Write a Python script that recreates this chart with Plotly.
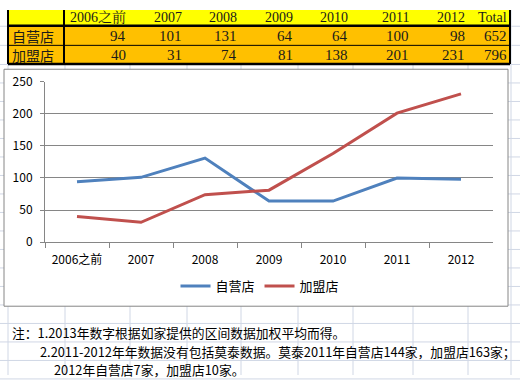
import plotly.graph_objects as go

W, H = 520, 382

categories = ["2006之前", "2007", "2008", "2009", "2010", "2011", "2012"]
series_names = ["自营店", "加盟店"]
own_stores = [94, 101, 131, 64, 64, 100, 98]
franchise_stores = [40, 31, 74, 81, 138, 201, 231]
total_label = "Total"
y_ticks = [0, 50, 100, 150, 200, 250]
notes = [
    "注：1.2013年数字根据如家提供的区间数据加权平均而得。",
    "2.2011-2012年年数据没有包括莫泰数据。莫泰2011年自营店144家，加盟店163家；",
    "2012年自营店7家，加盟店10家。",
]

colors = ["#4F81BD", "#C0504D"]


def px(x):
    return x / W


def py(y):
    return 1 - y / H


shapes = []
annotations = []

# spreadsheet grid
grid_color = "#D0D7E5"
col_edges = [8, 65, 130, 187, 241, 298, 353, 413, 468, 511]
row_edges = [17, 37, 57] + [57 + 19.36 * i for i in range(1, 18)]
for x in col_edges:
    shapes.append(dict(type="line", xref="paper", yref="paper", x0=px(x), x1=px(x), y0=0, y1=1,
                       line=dict(color=grid_color, width=1), layer="below"))
for y in row_edges:
    shapes.append(dict(type="line", xref="paper", yref="paper", x0=0, x1=1, y0=py(y), y1=py(y),
                       line=dict(color=grid_color, width=1), layer="below"))

# table fills
tbl_l, tbl_r, colA = 8, 510, 64
hdr_b, r2_b, r3_b = 16.5, 37, 56.5
shapes.append(dict(type="rect", xref="paper", yref="paper", x0=px(tbl_l), x1=px(tbl_r), y0=py(0), y1=py(hdr_b),
                   fillcolor="#FFFF00", line=dict(width=0), layer="below"))
shapes.append(dict(type="rect", xref="paper", yref="paper", x0=px(tbl_l), x1=px(tbl_r), y0=py(hdr_b), y1=py(r3_b),
                   fillcolor="#FFC000", line=dict(width=0), layer="below"))


def hline(y, x0, x1, w, c="#000000"):
    shapes.append(dict(type="line", xref="paper", yref="paper", x0=px(x0), x1=px(x1), y0=py(y), y1=py(y),
                       line=dict(color=c, width=w), layer="below"))


def vline(x, y0, y1, w, c="#000000"):
    shapes.append(dict(type="line", xref="paper", yref="paper", x0=px(x), x1=px(x), y0=py(y0), y1=py(y1),
                       line=dict(color=c, width=w), layer="below"))


hline(hdr_b, tbl_l, tbl_r, 2.5)
hline(r2_b, tbl_l, tbl_r, 1)
hline(r3_b, tbl_l, tbl_r, 2.5)
vline(tbl_l, 0, r3_b, 2)
vline(colA, 0, r3_b, 2)
vline(tbl_r, 0, r3_b, 2)

# chart area
shapes.append(dict(type="rect", xref="paper", yref="paper", x0=px(4), x1=px(508), y0=py(62), y1=py(310),
                   fillcolor="#FFFFFF", line=dict(color="#868686", width=1), layer="below"))

# table text
serif = "Liberation Serif, Times New Roman, serif"
cjk = "Noto Sans CJK SC, sans-serif"
right_edges = [128, 184, 239, 295, 350, 411, 467, 509]
header = categories + [total_label]
rows = [own_stores + [sum(own_stores)], franchise_stores + [sum(franchise_stores)]]
row_centers = [8, 27.5, 47]
for i, h in enumerate(header):
    annotations.append(dict(text=h, xref="paper", yref="paper", x=px(right_edges[i]), y=py(row_centers[0]),
                            xanchor="right", yanchor="middle", showarrow=False,
                            font=dict(family="Liberation Serif, Noto Serif CJK SC, serif", size=14, color="#1a1a1a")))
for r, vals in enumerate(rows):
    annotations.append(dict(text=series_names[r], xref="paper", yref="paper", x=px(10), y=py(row_centers[r + 1]),
                            xanchor="left", yanchor="middle", showarrow=False,
                            font=dict(family=cjk, size=14, color="#1a1a1a")))
    for i, v in enumerate(vals):
        annotations.append(dict(text=str(v), xref="paper", yref="paper", x=px(right_edges[i]),
                                y=py(row_centers[r + 1]), xanchor="right", yanchor="middle", showarrow=False,
                                font=dict(family=serif, size=15, color="#1a1a1a")))

# notes
note_pos = [(10, 338), (38, 357), (52, 376)]
for t, (x, y) in zip(notes, note_pos):
    annotations.append(dict(text=t, xref="paper", yref="paper", x=px(x), y=py(y), xanchor="left",
                            yanchor="middle", showarrow=False, font=dict(family=cjk, size=12.8, color="#000000")))

fig = go.Figure()
for name, vals, c in zip(series_names, [own_stores, franchise_stores], colors):
    fig.add_trace(go.Scatter(x=categories, y=vals, mode="lines", name=name,
                             line=dict(color=c, width=3)))

fig.update_layout(
    width=W, height=H,
    margin=dict(l=0, r=0, t=0, b=0),
    paper_bgcolor="#FFFFFF",
    plot_bgcolor="rgba(0,0,0,0)",
    shapes=shapes,
    annotations=annotations,
    showlegend=True,
    legend=dict(orientation="h", x=0.5, xanchor="center", y=py(289), yanchor="middle",
                font=dict(family=cjk, size=13, color="#000000"), bgcolor="rgba(0,0,0,0)",
                itemwidth=30, tracegroupgap=0),
    xaxis=dict(domain=[px(45), px(493)], type="category", range=[-0.5, 6.5],
               showgrid=False, showline=True, linecolor="#868686", linewidth=1,
               ticks="outside", tickson="boundaries", ticklen=5, tickcolor="#868686",
               ticklabelstandoff=6,
               tickfont=dict(family=cjk, size=12, color="#000000")),
    yaxis=dict(domain=[py(243), py(75)], range=[0, 250], tickvals=y_ticks,
               showgrid=True, gridcolor="#868686", gridwidth=1, zeroline=False,
               showline=True, linecolor="#868686", linewidth=1,
               ticks="outside", ticklen=4, tickcolor="#868686",
               ticklabelstandoff=5,
               tickfont=dict(family=cjk, size=12, color="#000000")),
)

fig.write_html(
    "out.html",
    config={"displayModeBar": False},
    post_script="document.body.style.margin='0';document.body.style.overflow='hidden';",
)
